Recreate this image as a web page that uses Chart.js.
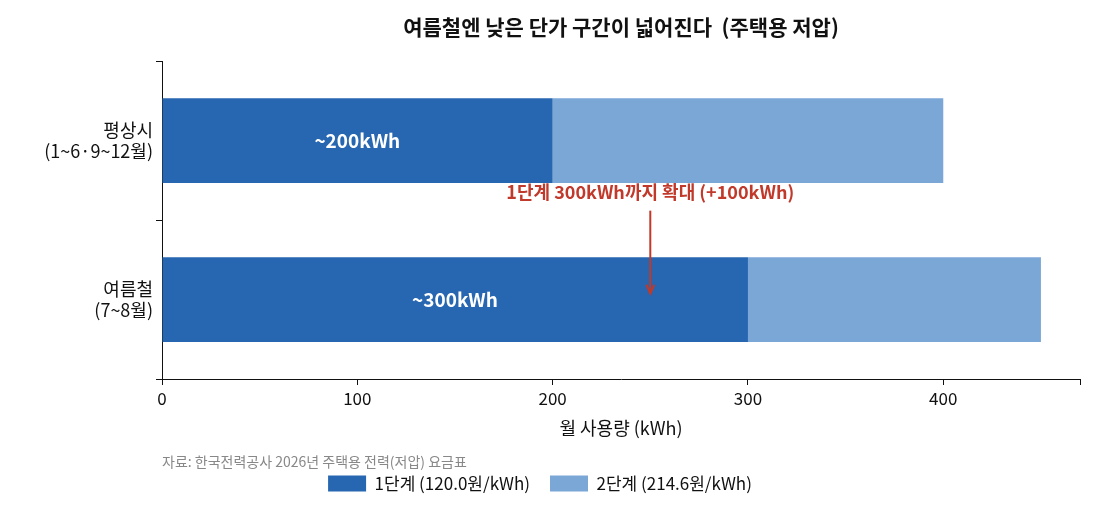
<!DOCTYPE html>
<html><head><meta charset="utf-8">
<script src="https://cdn.jsdelivr.net/npm/chart.js@4"></script>
<style>html,body{margin:0;background:#fff}#w{width:1094px;height:512px}</style>
</head><body><div id="w"><canvas id="c"></canvas></div>
<script>
const categories=[['평상시','(1~6·9~12월)'],['여름철','(7~8월)']];
const tier1=[200,300];
const tier2=[200,150];
const barLabels=['~200kWh','~300kWh'];
const xTicksMax=470;
const titleText='여름철엔 낮은 단가 구간이 넓어진다  (주택용 저압)';
const F='"Noto Sans CJK KR","Noto Sans",sans-serif';
const annot={id:'annot',afterDatasetsDraw(ch){
  const {ctx,scales:{x,y},chartArea:ca}=ch;
  const m=ch.getDatasetMeta(0);
  ctx.save();
  ctx.fillStyle='#111';ctx.font='bold 21px '+F;ctx.textAlign='center';ctx.textBaseline='middle';
  ctx.fillText(titleText,(ca.left+ca.right)/2,27);
  ctx.font='bold 19px '+F;ctx.fillStyle='#fff';
  tier1.forEach((v,i)=>ctx.fillText(barLabels[i],x.getPixelForValue(v/2),m.data[i].y));
  const ax=x.getPixelForValue(250);
  ctx.fillStyle='#c0392b';ctx.font='bold 18px '+F;
  ctx.fillText('1단계 300kWh까지 확대 (+100kWh)',ax,m.data[0].y+52);
  ctx.strokeStyle='#c0392b';ctx.lineWidth=2;
  const y0=m.data[0].y+70,y1=m.data[1].y-6;
  ctx.beginPath();ctx.moveTo(ax,y0);ctx.lineTo(ax,y1);ctx.stroke();
  ctx.beginPath();ctx.moveTo(ax-4,y1-9);ctx.lineTo(ax,y1);ctx.lineTo(ax+4,y1-9);ctx.stroke();
  ctx.fillStyle='#888';ctx.font='14px '+F;ctx.textAlign='left';
  ctx.fillText('자료: 한국전력공사 2026년 주택용 전력(저압) 요금표',162,462);
  ctx.restore();
}};
new Chart(document.getElementById('c'),{type:'bar',
 data:{labels:categories,datasets:[
  {label:'1단계 (120.0원/kWh)',data:tier1,backgroundColor:'#2766b0'},
  {label:'2단계 (214.6원/kWh)',data:tier2,backgroundColor:'#7ba7d7'}]},
 options:{indexAxis:'y',responsive:true,maintainAspectRatio:false,animation:false,
  layout:{padding:{right:14,left:0,bottom:10}},
  datasets:{bar:{barPercentage:0.533,categoryPercentage:1}},
  plugins:{title:{display:true,text:' ',font:{family:F,size:21,weight:'bold'},padding:{top:8,bottom:28}},
   legend:{position:'bottom',labels:{font:{family:F,size:17},color:'#111',boxWidth:38,boxHeight:16,padding:20}},tooltip:{enabled:false}},
  scales:{
   x:{stacked:true,min:0,max:xTicksMax,grid:{drawOnChartArea:false,tickLength:6,color:'#111'},border:{color:'#111'},
      ticks:{stepSize:100,font:{family:F,size:17},color:'#111',callback:v=>v%100===0&&v<=400?v:''},
      title:{display:true,text:'월 사용량 (kWh)',font:{family:F,size:18},color:'#111',padding:{top:6,bottom:16}}},
   y:{stacked:true,grid:{drawOnChartArea:false,tickLength:6,color:'#111'},border:{color:'#111'},
      afterFit(s){s.width=162;},
      ticks:{font:{family:F,size:18},color:'#111'}}}},
 plugins:[annot]});
</script></body></html>
